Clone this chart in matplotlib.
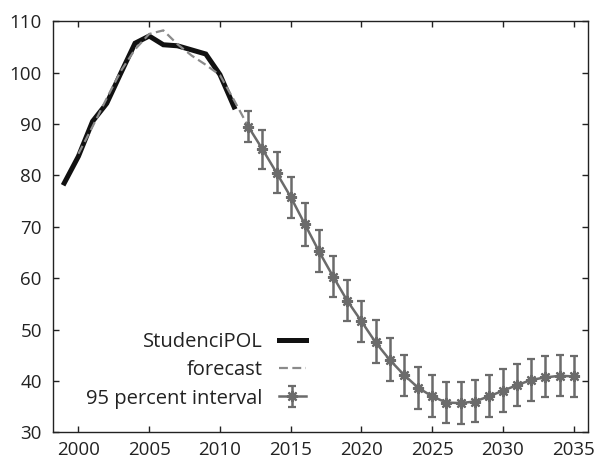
import matplotlib
matplotlib.use("Agg")
import matplotlib.pyplot as plt
import numpy as np

plt.rcParams['font.family'] = ['Open Sans', 'DejaVu Sans']

# Observed series
obs_years = [1999, 2000, 2001, 2002, 2003, 2004, 2005, 2006, 2007, 2008, 2009, 2010, 2011]
obs_values = [78.5, 83.7, 90.5, 94.0, 99.9, 105.7, 107.1, 105.4, 105.2, 104.4, 103.6, 99.6, 93.3]

# Fitted / forecast series
fc_years = list(range(2000, 2036))
fc_values = [84.2, 89.5, 95.0, 100.3, 104.5, 107.5, 108.2, 105.5, 103.3, 101.5, 99.5, 94.6,
             89.5, 85.1, 80.5, 75.8, 70.5, 65.2, 60.3, 55.6, 51.6, 47.5, 44.1, 41.2,
             38.7, 37.0, 35.8, 35.7, 36.0, 37.0, 38.1, 39.2, 40.2, 40.7, 41.0, 40.9]

# 95 percent interval bounds for the forecast horizon
int_years = list(range(2012, 2036))
int_lower = [86.4, 81.3, 76.5, 71.7, 66.3, 61.1, 56.3, 51.6, 47.5, 43.5, 39.9, 37.0,
             34.6, 33.0, 31.8, 31.7, 32.0, 33.0, 34.0, 35.2, 36.1, 36.8, 37.0, 36.8]
int_upper = [92.6, 88.9, 84.5, 79.6, 74.6, 69.4, 64.4, 59.7, 55.6, 51.8, 48.3, 45.1,
             42.8, 41.1, 39.8, 39.8, 40.2, 41.1, 42.3, 43.3, 44.3, 44.9, 45.1, 44.9]

xticks = [2000, 2005, 2010, 2015, 2020, 2025, 2030, 2035]
yticks = [30, 40, 50, 60, 70, 80, 90, 100, 110]

fig = plt.figure(figsize=(5.95, 4.59), dpi=100)
ax = fig.add_axes([0.089, 0.058, 0.899, 0.896])

int_center = np.array(fc_values[fc_years.index(2012):])
yerr = np.vstack([int_center - np.array(int_lower), np.array(int_upper) - int_center])

h_obs, = ax.plot(obs_years, obs_values, color='#111111', lw=3.6, zorder=3,
                 solid_joinstyle='miter', label='StudenciPOL')
h_fc, = ax.plot(fc_years[:fc_years.index(2013)], fc_values[:fc_years.index(2013)],
                color='#8a8a8a', lw=1.6, ls=(0, (4, 2)), zorder=4, label='forecast')
h_int = ax.errorbar(int_years, int_center, yerr=yerr, color='#6b6b6b', lw=1.8,
                    elinewidth=1.8, capsize=3, capthick=1.5,
                    marker=(8, 2, 0), markersize=8, mew=1.6, zorder=4,
                    label='95 percent interval')

ax.set_xlim(1998.2, 2036)
ax.set_ylim(30, 110)
ax.set_xticks(xticks)
ax.set_yticks(yticks)
ax.tick_params(direction='in', length=4, width=1, top=True, right=True,
               labelsize=13.5, colors='#222222', pad=8)
ax.tick_params(axis='x', pad=6)
for s in ax.spines.values():
    s.set_linewidth(1.0)
    s.set_color('#222222')

leg = ax.legend(handles=[h_obs, h_fc, h_int], loc='lower right',
                bbox_to_anchor=(0.473, 0.058), frameon=False, markerfirst=False,
                fontsize=14.5, handlelength=1.35, handletextpad=0.8,
                labelspacing=0.42, borderpad=0, borderaxespad=0,
                alignment='right')
for t in leg.get_texts():
    t.set_color('#222222')

fig.savefig('out.png', dpi=100)
